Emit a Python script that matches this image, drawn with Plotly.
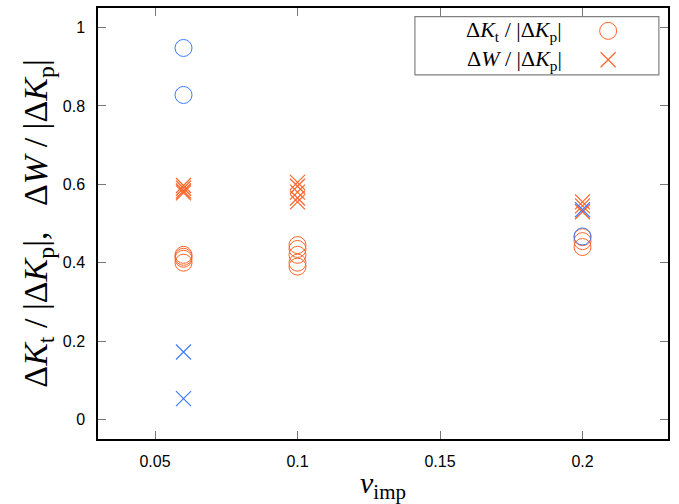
import plotly.graph_objects as go

# Data
x_kt_orange = [0.06, 0.06, 0.06, 0.06, 0.1, 0.1, 0.1, 0.1, 0.1, 0.2, 0.2, 0.2]
y_kt_orange = [0.42, 0.415, 0.41, 0.40, 0.445, 0.435, 0.42, 0.40, 0.39, 0.465, 0.455, 0.44]
x_w_orange = [0.06, 0.06, 0.06, 0.06, 0.1, 0.1, 0.1, 0.1, 0.1, 0.2, 0.2, 0.2]
y_w_orange = [0.597, 0.59, 0.583, 0.578, 0.605, 0.595, 0.58, 0.565, 0.555, 0.555, 0.545, 0.53]
x_kt_blue = [0.06, 0.06, 0.2]
y_kt_blue = [0.948, 0.828, 0.467]
x_w_blue = [0.06, 0.06, 0.2]
y_w_blue = [0.172, 0.053, 0.535]

legend_labels = ["Δ<i>K</i><sub>t</sub> / |Δ<i>K</i><sub>p</sub>|",
                 "Δ<i>W</i> / |Δ<i>K</i><sub>p</sub>|"]

ORANGE = "#ff6428"
BLUE = "#3f7bff"

fig = go.Figure()
fig.add_trace(go.Scatter(x=x_kt_orange, y=y_kt_orange, mode="markers",
                         marker=dict(symbol="circle-open", size=17, color=ORANGE, line=dict(width=1)),
                         showlegend=False))
fig.add_trace(go.Scatter(x=x_w_orange, y=y_w_orange, mode="markers",
                         marker=dict(symbol="x-thin-open", size=15, color=ORANGE, line=dict(width=1.2, color=ORANGE)),
                         showlegend=False))
fig.add_trace(go.Scatter(x=x_kt_blue, y=y_kt_blue, mode="markers",
                         marker=dict(symbol="circle-open", size=17, color=BLUE, line=dict(width=1)),
                         showlegend=False))
fig.add_trace(go.Scatter(x=x_w_blue, y=y_w_blue, mode="markers",
                         marker=dict(symbol="x-thin-open", size=15, color=BLUE, line=dict(width=1.2, color=BLUE)),
                         showlegend=False))

# Custom legend (symbols on the right, gnuplot style)
leg_x_text = 0.818
leg_x_sym = 0.895
leg_y = [0.947, 0.880]
fig.add_trace(go.Scatter(x=[leg_x_sym], y=[leg_y[0]], xaxis="x2", yaxis="y2", mode="markers",
                         marker=dict(symbol="circle-open", size=17, color=ORANGE, line=dict(width=1)),
                         showlegend=False, hoverinfo="skip"))
fig.add_trace(go.Scatter(x=[leg_x_sym], y=[leg_y[1]], xaxis="x2", yaxis="y2", mode="markers",
                         marker=dict(symbol="x-thin-open", size=15, color=ORANGE, line=dict(width=1.2, color=ORANGE)),
                         showlegend=False, hoverinfo="skip"))
for lab, yy in zip(legend_labels, leg_y):
    fig.add_annotation(x=leg_x_text, y=yy, xref="paper", yref="paper", text=lab,
                       showarrow=False, xanchor="right", yanchor="middle",
                       font=dict(family="Liberation Serif", size=22, color="black"))
fig.add_shape(type="rect", xref="paper", yref="paper", x0=0.556, x1=0.984, y0=0.845, y1=0.980,
              line=dict(color="#808080", width=1.2), fillcolor="white", layer="below")

axis_common = dict(showline=True, linecolor="black", linewidth=1.5, mirror="ticks",
                   ticks="inside", ticklen=8, tickcolor="#777", tickwidth=1,
                   showgrid=False, zeroline=False,
                   tickfont=dict(family="Liberation Sans", size=16, color="black"))

fig.update_layout(
    width=679, height=504,
    margin=dict(l=98, r=11, t=6, b=65),
    plot_bgcolor="white", paper_bgcolor="white",
    xaxis=dict(range=[0.03, 0.23], tickvals=[0.05, 0.1, 0.15, 0.2],
               ticktext=["0.05", "0.1", "0.15", "0.2"], ticklabelstandoff=7,
               title=dict(text="<i>v</i><sub>imp</sub>", standoff=4,
                          font=dict(family="Liberation Serif", size=30, color="black")),
               **axis_common),
    yaxis=dict(range=[-0.05, 1.05], tickvals=[0, 0.2, 0.4, 0.6, 0.8, 1],
               ticktext=["0", "0.2", "0.4", "0.6", "0.8", "1"], ticklabelstandoff=8,
               title=dict(text="Δ<i>K</i><sub>t</sub> / |Δ<i>K</i><sub>p</sub>|,   Δ<i>W</i> / |Δ<i>K</i><sub>p</sub>|\u00a0\u00a0\u00a0",
                          standoff=5,
                          font=dict(family="Liberation Serif", size=34, color="black")),
               **axis_common),
    xaxis2=dict(domain=[0, 1], range=[0, 1], overlaying="x", anchor="y2", visible=False, fixedrange=True),
    yaxis2=dict(domain=[0, 1], range=[0, 1], overlaying="y", anchor="x2", visible=False, fixedrange=True),
)

fig.write_html("out.html")
